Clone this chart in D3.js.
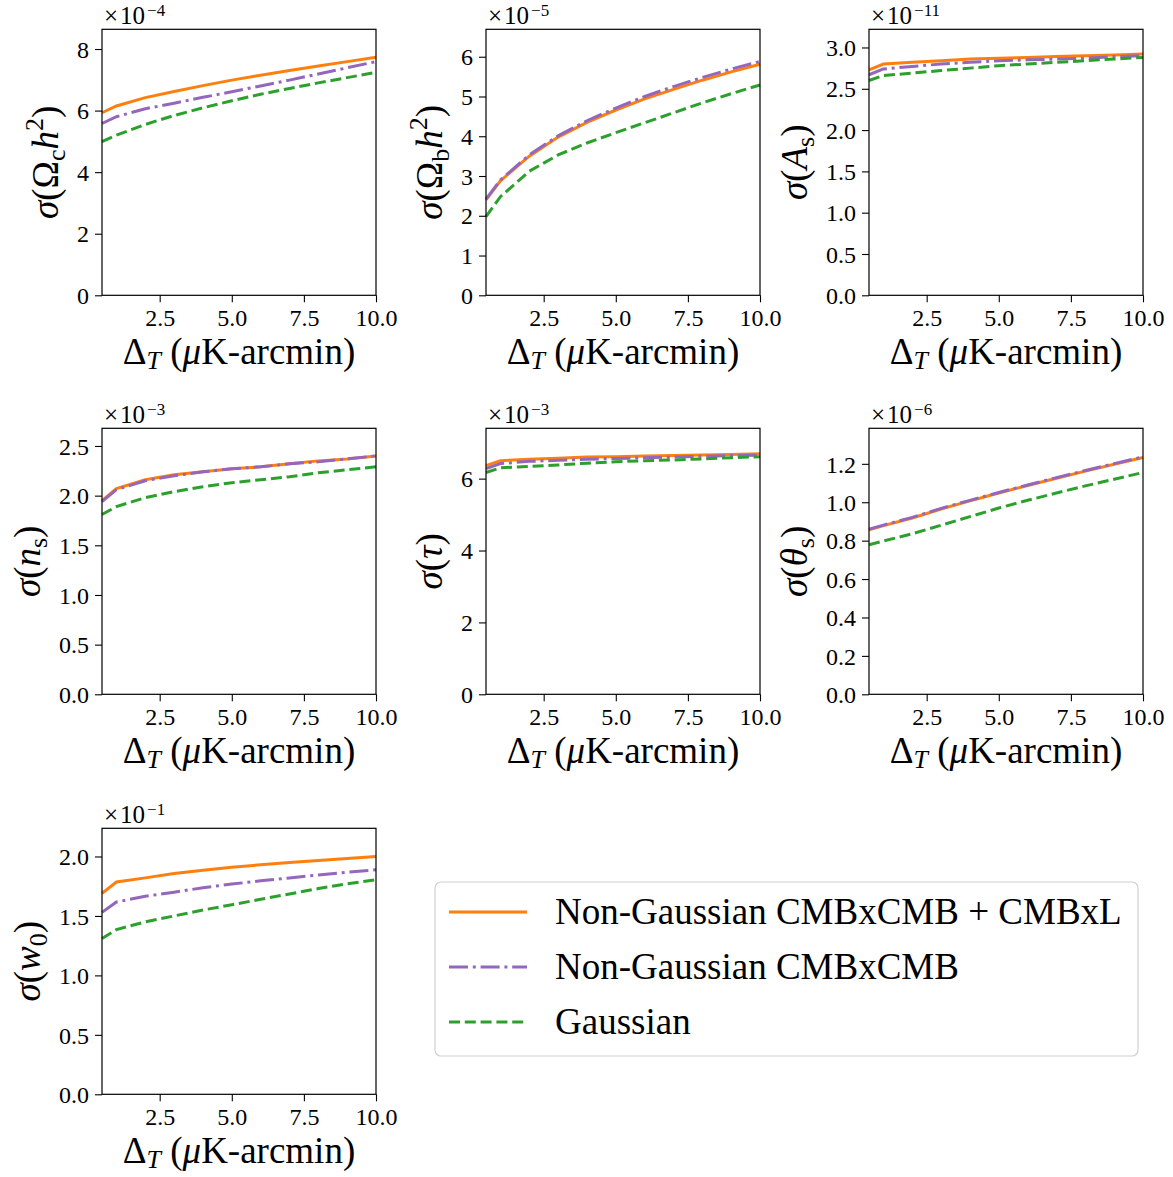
<!DOCTYPE html>
<html>
<head>
<meta charset="utf-8">
<script src="https://cdn.jsdelivr.net/npm/d3@7"></script>
<style>
  body { margin: 0; background: #fff; }
  text { font-family: "Liberation Serif", "DejaVu Serif", serif; fill: #000; }
</style>
</head>
<body>
<div id="chart"></div>
<script>
// noise levels (muK-arcmin)
const deltaT = [0.5, 1, 2, 3, 4, 5, 6, 7, 8, 9, 10];

// sigma(Omega_c h^2) x 1e-4
const omch2Full  = [5.93, 6.15, 6.42, 6.62, 6.81, 6.99, 7.15, 7.30, 7.45, 7.59, 7.73];
const omch2Cmb   = [5.58, 5.80, 6.06, 6.24, 6.43, 6.61, 6.80, 6.99, 7.19, 7.39, 7.59];
const omch2Gauss = [4.99, 5.20, 5.55, 5.84, 6.09, 6.32, 6.53, 6.72, 6.90, 7.07, 7.24];

// sigma(Omega_b h^2) x 1e-5
const ombh2Full  = [2.40, 2.88, 3.50, 3.98, 4.35, 4.66, 4.94, 5.18, 5.41, 5.62, 5.81];
const ombh2Cmb   = [2.42, 2.90, 3.53, 4.01, 4.39, 4.71, 5.00, 5.25, 5.48, 5.69, 5.88];
const ombh2Gauss = [1.98, 2.48, 3.12, 3.53, 3.83, 4.09, 4.34, 4.59, 4.84, 5.07, 5.29];

// sigma(A_s) x 1e-11
const asFull  = [2.73, 2.80, 2.82, 2.84, 2.86, 2.87, 2.88, 2.89, 2.90, 2.91, 2.92];
const asCmb   = [2.67, 2.74, 2.77, 2.80, 2.82, 2.84, 2.85, 2.86, 2.87, 2.89, 2.90];
const asGauss = [2.60, 2.66, 2.69, 2.72, 2.75, 2.78, 2.80, 2.82, 2.84, 2.86, 2.88];

// sigma(n_s) x 1e-3
const nsFull  = [1.95, 2.07, 2.16, 2.21, 2.24, 2.27, 2.29, 2.32, 2.35, 2.37, 2.40];
const nsCmb   = [1.94, 2.06, 2.15, 2.20, 2.24, 2.27, 2.29, 2.32, 2.34, 2.37, 2.40];
const nsGauss = [1.81, 1.89, 1.98, 2.04, 2.09, 2.13, 2.16, 2.19, 2.23, 2.26, 2.29];

// sigma(tau) x 1e-3
const tauFull  = [6.36, 6.50, 6.54, 6.57, 6.60, 6.61, 6.63, 6.64, 6.66, 6.67, 6.69];
const tauCmb   = [6.28, 6.42, 6.48, 6.51, 6.54, 6.56, 6.58, 6.60, 6.62, 6.64, 6.65];
const tauGauss = [6.17, 6.30, 6.34, 6.38, 6.43, 6.47, 6.50, 6.52, 6.55, 6.58, 6.61];

// sigma(theta_s) x 1e-6
const thetaFull  = [0.857, 0.878, 0.918, 0.965, 1.007, 1.048, 1.087, 1.125, 1.162, 1.198, 1.233];
const thetaCmb   = [0.860, 0.881, 0.921, 0.968, 1.010, 1.051, 1.090, 1.128, 1.165, 1.201, 1.236];
const thetaGauss = [0.779, 0.798, 0.836, 0.880, 0.925, 0.970, 1.010, 1.048, 1.085, 1.120, 1.155];

// sigma(w_0) x 1e-1
const w0Full  = [1.69, 1.785, 1.82, 1.857, 1.885, 1.91, 1.930, 1.949, 1.966, 1.983, 2.00];
const w0Cmb   = [1.53, 1.617, 1.665, 1.70, 1.737, 1.768, 1.795, 1.82, 1.845, 1.867, 1.888];
const w0Gauss = [1.31, 1.385, 1.45, 1.50, 1.55, 1.594, 1.64, 1.685, 1.73, 1.77, 1.804];

const seriesNames = ["Non-Gaussian CMBxCMB + CMBxL", "Non-Gaussian CMBxCMB", "Gaussian"];
const seriesColors = ["#ff7f0e", "#9467bd", "#2ca02c"];
const seriesDash = [null, "19,4.8,3,4.8", "11,4.8"];

const xTicks = [2.5, 5.0, 7.5, 10.0];

// panels: label pieces, exponent, y range, ticks
const panels = [
  {label: [["σ","i"],["("],["Ω"],["c","sub"],["h","i"],["2","sup"],[")"]], exp: "−4", ymax: 8.64, ticks: [0,2,4,6,8], fmt: "d", data: [omch2Full, omch2Cmb, omch2Gauss]},
  {label: [["σ","i"],["("],["Ω"],["b","sub"],["h","i"],["2","sup"],[")"]], exp: "−5", ymax: 6.69, ticks: [0,1,2,3,4,5,6], fmt: "d", data: [ombh2Full, ombh2Cmb, ombh2Gauss]},
  {label: [["σ","i"],["("],["A","i"],["s","sub"],[")"]], exp: "−11", ymax: 3.22, ticks: [0,0.5,1,1.5,2,2.5,3], fmt: ".1f", data: [asFull, asCmb, asGauss]},
  {label: [["σ","i"],["("],["n","i"],["s","sub"],[")"]], exp: "−3", ymax: 2.678, ticks: [0,0.5,1,1.5,2,2.5], fmt: ".1f", data: [nsFull, nsCmb, nsGauss]},
  {label: [["σ","i"],["("],["τ","i"],[")"]], exp: "−3", ymax: 7.40, ticks: [0,2,4,6], fmt: "d", data: [tauFull, tauCmb, tauGauss]},
  {label: [["σ","i"],["("],["θ","i"],["s","sub"],[")"]], exp: "−6", ymax: 1.385, ticks: [0,0.2,0.4,0.6,0.8,1.0,1.2], fmt: ".1f", data: [thetaFull, thetaCmb, thetaGauss]},
  {label: [["σ","i"],["("],["w","i"],["0","sub"],[")"]], exp: "−1", ymax: 2.237, ticks: [0,0.5,1,1.5,2], fmt: ".1f", data: [w0Full, w0Cmb, w0Gauss]}
];

const width = 1173, height = 1177;
const colLeft = [102, 486, 869];
const rowTop = [29.3, 428.3, 828.3];
const pw = 274, ph = 266;
const tickFs = 24, labelFs = 37, legendFs = 37;
const tickLen = 7, tickPad = 6;

const svg = d3.select("#chart").append("svg")
  .attr("width", width)
  .attr("height", height);

svg.append("rect").attr("width", width).attr("height", height).attr("fill", "#fff");

// writes math-like label parts as tspans
function mathText(textSel, parts, fs, subShift) {
  let shift = 0;
  parts.forEach(p => {
    const kind = p[1];
    let target = 0, size = fs;
    if (kind === "sub" || kind === "subi") { target = subShift * fs; size = 0.7 * fs; }
    if (kind === "sup") { target = -0.4 * fs; size = 0.7 * fs; }
    textSel.append("tspan")
      .attr("dy", target - shift)
      .attr("font-size", size)
      .attr("font-style", (kind === "i" || kind === "subi") ? "italic" : null)
      .text(p[0]);
    shift = target;
  });
}

const x = d3.scaleLinear().domain([0.5, 10]).range([0, pw]);

panels.forEach((p, i) => {
  const g = svg.append("g")
    .attr("transform", `translate(${colLeft[i % 3]},${rowTop[Math.floor(i / 3)]})`);
  const y = d3.scaleLinear().domain([0, p.ymax]).range([ph, 0]);

  const line = d3.line()
    .x((d, k) => x(deltaT[k]))
    .y(d => y(d));

  p.data.forEach((vals, s) => {
    g.append("path")
      .datum(vals)
      .attr("d", line)
      .attr("fill", "none")
      .attr("stroke", seriesColors[s])
      .attr("stroke-width", 3)
      .attr("stroke-dasharray", seriesDash[s]);
  });

  const xAxis = g.append("g")
    .attr("transform", `translate(0,${ph})`)
    .call(d3.axisBottom(x).tickValues(xTicks).tickFormat(d3.format(".1f")).tickSize(tickLen).tickPadding(tickPad));
  const yAxis = g.append("g")
    .call(d3.axisLeft(y).tickValues(p.ticks).tickFormat(d3.format(p.fmt)).tickSize(tickLen).tickPadding(tickPad));

  [xAxis, yAxis].forEach(a => {
    a.select(".domain").remove();
    a.selectAll(".tick line").attr("stroke", "#000").attr("stroke-width", 1.1);
    a.selectAll(".tick text")
      .attr("font-family", "Liberation Serif")
      .attr("font-size", tickFs)
      .attr("fill", "#000");
  });
  xAxis.selectAll(".tick text").attr("dy", "0.72em");
  yAxis.selectAll(".tick text").attr("dy", "0.34em");

  g.append("rect")
    .attr("width", pw).attr("height", ph)
    .attr("fill", "none")
    .attr("stroke", "#000")
    .attr("stroke-width", 1.2);

  // offset text
  const off = g.append("text")
    .attr("x", 2).attr("y", -5)
    .attr("font-size", 25);
  off.append("tspan").text("×");
  off.append("tspan").attr("dx", 2).text("10");
  off.append("tspan").attr("dx", 2).attr("dy", -8).attr("font-size", 17).text(p.exp);

  // x label
  const xl = g.append("text")
    .attr("x", pw / 2).attr("y", ph + 69)
    .attr("text-anchor", "middle")
    .attr("font-size", labelFs);
  mathText(xl, [["Δ"],["T","subi"],[" ("],["μ","i"],["K-arcmin)"]], labelFs, 0.14);

  // y label
  let maxW = 0;
  yAxis.selectAll(".tick text").each(function() { maxW = Math.max(maxW, this.getComputedTextLength()); });
  const bx = -(tickLen + tickPad + maxW + 8 + 0.3 * labelFs);
  const yl = g.append("text")
    .attr("transform", `translate(${bx},${ph / 2}) rotate(-90)`)
    .attr("text-anchor", "middle")
    .attr("font-size", labelFs);
  mathText(yl, p.label, labelFs, 0.2);
});

// legend
const lg = svg.append("g").attr("transform", "translate(435,882)");
lg.append("rect")
  .attr("width", 703).attr("height", 174)
  .attr("rx", 6)
  .attr("fill", "#fff")
  .attr("stroke", "#d0d0d0")
  .attr("stroke-width", 1.2);
seriesNames.forEach((name, s) => {
  const yy = 30 + s * 55;
  lg.append("line")
    .attr("x1", 14).attr("x2", 92)
    .attr("y1", yy).attr("y2", yy)
    .attr("stroke", seriesColors[s])
    .attr("stroke-width", 3)
    .attr("stroke-dasharray", seriesDash[s]);
  lg.append("text")
    .attr("x", 120).attr("y", yy + 12)
    .attr("font-size", legendFs)
    .text(name);
});
</script>
</body>
</html>
